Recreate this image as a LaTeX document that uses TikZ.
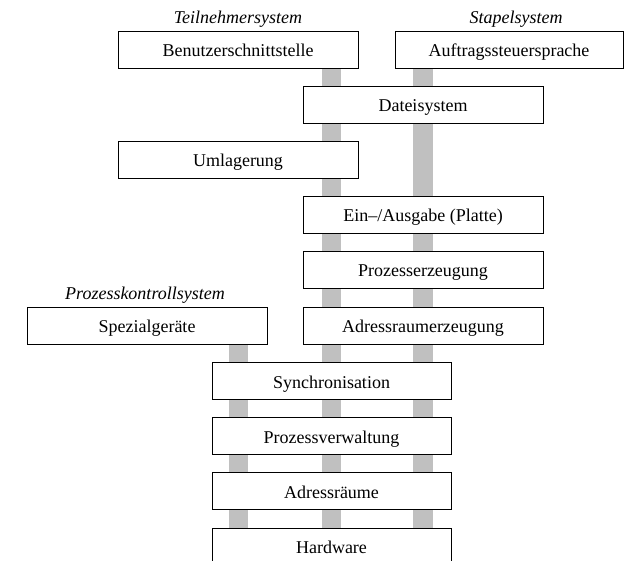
\documentclass[tikz,border=0pt]{standalone}
\usepackage{fontspec}
\setmainfont{Liberation Serif}
\usetikzlibrary{backgrounds}
\definecolor{bargray}{RGB}{192,192,192}
\begin{document}
\begin{tikzpicture}[x=1pt,y=-1pt,
  layerbox/.style={draw=black, line width=1pt, fill=white, rectangle,
    minimum height=37pt, inner sep=0pt, text height=14pt, text depth=0pt,
    font=\fontsize{18}{21}\selectfont},
  syslabel/.style={font=\fontsize{18}{21}\selectfont\itshape, inner sep=0pt, anchor=base},
  bar/.style={draw=bargray, line width=19.5pt, line cap=butt}]
\useasboundingbox (0,0) rectangle (624,560);
\clip (0,0) rectangle (624,560);

% system labels
\node[syslabel] (tlabel) at (238,23) {Teilnehmersystem};
\node[syslabel] (slabel) at (516,23) {Stapelsystem};
\node[syslabel] (plabel) at (145,299.5) {Prozesskontrollsystem};

% boxes
\node[layerbox, minimum width=240pt] (benutzer) at (238,49.5) {Benutzerschnittstelle};
\node[layerbox, minimum width=228pt] (auftrag) at (509,49.5) {Auftragssteuersprache};
\node[layerbox, minimum width=240pt] (datei) at (423,104.5) {Dateisystem};
\node[layerbox, minimum width=240pt] (umlag) at (238,159.5) {Umlagerung};
\node[layerbox, minimum width=240pt] (einaus) at (423,214.5) {Ein--/Ausgabe (Platte)};
\node[layerbox, minimum width=240pt] (prozerz) at (423,269.5) {Prozesserzeugung};
\node[layerbox, minimum width=240pt] (spezial) at (147,325.5) {Spezialgeräte};
\node[layerbox, minimum width=240pt] (adrerz) at (423,325.5) {Adressraumerzeugung};
\node[layerbox, minimum width=239pt] (sync) at (331.5,381) {Synchronisation};
\node[layerbox, minimum width=239pt] (prozverw) at (331.5,436) {Prozessverwaltung};
\node[layerbox, minimum width=239pt] (adrr) at (331.5,491) {Adressräume};
\node[layerbox, minimum width=239pt] (hardware) at (331.5,546.5) {Hardware};

% columns
\coordinate (colA) at (238.5,0);
\coordinate (colB) at (331.5,0);
\coordinate (colC) at (423,0);

\begin{pgfonlayer}{background}
\draw[bar] (spezial.south -| colA) -- (hardware.north -| colA);
\draw[bar] (benutzer.south -| colB) -- (hardware.north -| colB);
\draw[bar] (auftrag.south -| colC) -- (hardware.north -| colC);
\end{pgfonlayer}
\end{tikzpicture}
\end{document}
